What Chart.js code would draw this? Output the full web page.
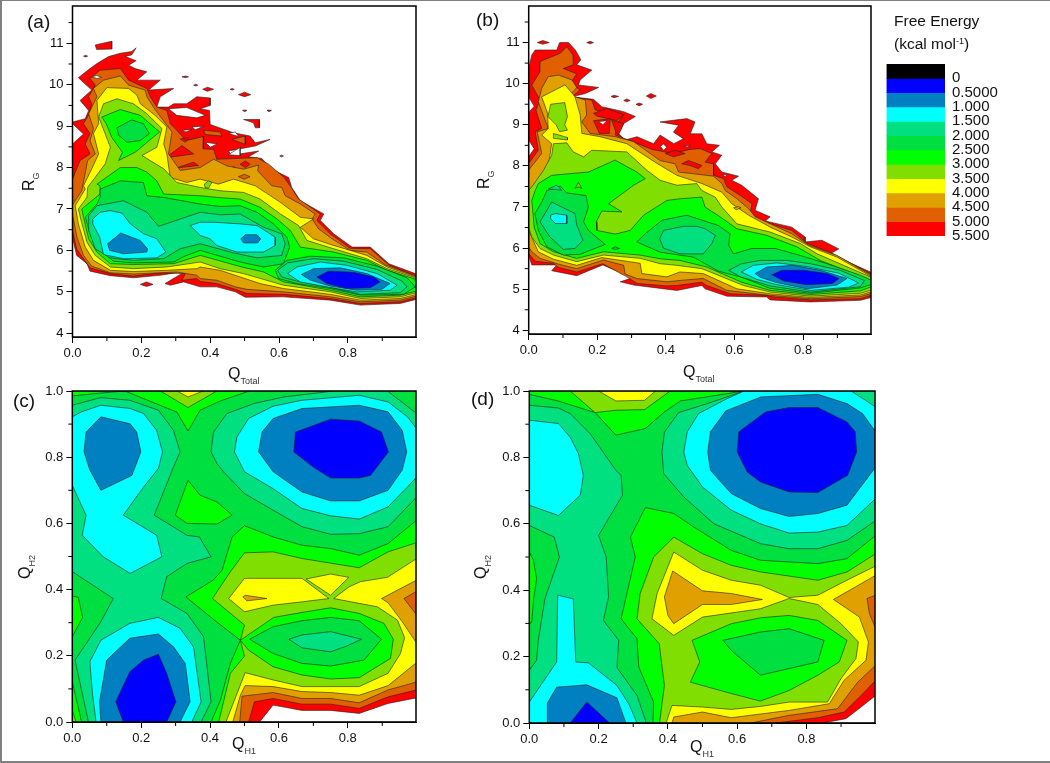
<!DOCTYPE html>
<html>
<head>
<meta charset="utf-8">
<script src="https://cdn.jsdelivr.net/npm/chart.js@4/dist/chart.umd.min.js"></script>
<style>
html,body{margin:0;padding:0;background:#fff;overflow:hidden}
#page{position:relative;width:1050px;height:763px;overflow:hidden;font-family:"Liberation Sans",Arial,sans-serif;color:#111}
#edge{position:absolute;left:0;top:0;width:1048px;height:760px;border-left:2px solid #808080;border-top:1px solid #808080;border-bottom:2px solid #808080}
canvas{position:absolute}
.t{position:absolute;white-space:nowrap;line-height:1}
.tag{font-size:19px}
.q{font-size:16px}
.q sub{font-size:9px;vertical-align:-5px;line-height:0;color:#333}
.rot{transform:rotate(-90deg);transform-origin:left top}
.head{font-size:15.5px}
.head sup{font-size:9px;vertical-align:5px;line-height:0}
</style>
</head>
<body>
<div id="page">
<div id="edge"></div>
<canvas id="panelA" width="450" height="390" style="left:0;top:-10px"></canvas>
<canvas id="panelB" width="420" height="390" style="left:460px;top:-10px"></canvas>
<canvas id="panelC" width="450" height="383" style="left:0;top:380px"></canvas>
<canvas id="panelD" width="420" height="383" style="left:460px;top:380px"></canvas>
<canvas id="scale" width="170" height="204" style="left:880px;top:48px"></canvas>
<span class="t tag" style="left:27px;top:12px">(a)</span>
<span class="t tag" style="left:476px;top:10px">(b)</span>
<span class="t tag" style="left:13px;top:391px">(c)</span>
<span class="t tag" style="left:471px;top:389px">(d)</span>
<span class="t q" style="left:228px;top:366px">Q<sub>Total</sub></span>
<span class="t q" style="left:683px;top:364px">Q<sub>Total</sub></span>
<span class="t q" style="left:232px;top:736px">Q<sub>H1</sub></span>
<span class="t q" style="left:690px;top:739px">Q<sub>H1</sub></span>
<span class="t q rot" style="left:21px;top:191px">R<sub>G</sub></span>
<span class="t q rot" style="left:476px;top:189px">R<sub>G</sub></span>
<span class="t q rot" style="left:17px;top:579px">Q<sub>H2</sub></span>
<span class="t q rot" style="left:473px;top:579px">Q<sub>H2</sub></span>
<span class="t head" style="left:894px;top:13px">Free Energy</span>
<span class="t head" style="left:894px;top:36px">(kcal mol<sup>-1</sup>)</span>
</div>
<script>
// free energy levels, kcal/mol
const levels = [0, 0.5, 1, 1.5, 2, 2.5, 3, 3.5, 4, 4.5, 5, 5.5];
const levelLabels = ['0', '0.5000', '1.000', '1.500', '2.000', '2.500', '3.000', '3.500', '4.000', '4.500', '5.000', '5.500'];
const bandColors = ['#000000', '#0000ff', '#0080c0', '#00ffff', '#00e080', '#00df40', '#00ff00', '#80df00', '#ffff00', '#e0a000', '#e06000', '#ff0000'];

const qTicks = [0, 0.2, 0.4, 0.6, 0.8];
const qMinor = [0.1, 0.3, 0.5, 0.7, 0.9];
const q2Ticks = [0, 0.2, 0.4, 0.6, 0.8, 1];
const rgTicks = [4, 5, 6, 7, 8, 9, 10, 11];
const rgMinor = [4.5, 5.5, 6.5, 7.5, 8.5, 9.5, 10.5, 11.5];

// each entry: upper energy level of the region, then x,y,x,y... of its outline. null = nothing sampled
const contoursA = [
[5.5,[0,9.1,.037,9.18,.047,9.38,.022,9.62,.056,9.87,.017,10.17,.051,10.39,.071,10.51,.105,10.68,.139,10.76,.172,10.8,.185,10.89,.172,10.72,.153,10.68,.185,10.58,.163,10.47,.182,10.39,.216,10.31,.187,10.11,.255,10.11,.221,9.87,.294,9.91,.255,9.71,.245,9.46,.279,9.46,.294,9.54,.332,9.54,.361,9.71,.4,9.68,.4,9.5,.371,9.42,.398,9.38,.4,9.04,.468,8.84,.516,8.76,.531,8.6,.574,8.68,.531,8.52,.492,8.46,.453,8.4,.463,8.3,.541,8.4,.511,8.26,.55,8.22,.579,7.96,.628,7.76,.637,7.52,.662,7.2,.73,6.88,.72,6.72,.759,6.4,.812,6.08,.865,6.08,.919,5.68,.996,5.44,1,5.4,1,4.82,.952,4.72,.836,4.68,.749,4.8,.613,4.88,.502,4.87,.473,5,.419,5.12,.371,5.12,.323,5.24,.284,5.16,.269,5.2,.313,5.42,.332,5.5,.255,5.4,.177,5.34,.11,5.39,.051,5.5,.042,5.68,.012,5.88,.003,6.2,0,6.5]],
[null,[0,8.57,.032,8.81,0,9.06]],
[null,[.279,9.42,.332,9.45,.386,9.26,.361,9.2,.303,9.26]],
[null,[.347,8.98,.381,9,.357,8.91]],
[null,[.318,8.9,.347,8.92,.33,8.86]],
[null,[.386,8.61,.42,8.57,.4,8.49]],
[null,[.453,8.31,.487,8.49,.487,8.29]],
[null,[.453,8.82,.473,8.86,.483,8.75]],
[5.5,[.066,10.96,.114,11.05,.114,10.86,.07,10.85]],
[5.5,[.032,10.69,.038,10.71,.044,10.69,.038,10.67]],
[5.5,[.318,10.19,.328,10.21,.337,10.19,.328,10.17]],
[5.5,[.352,9.99,.358,10.01,.364,9.99,.358,9.97]],
[5.5,[.378,9.89,.392,9.94,.41,9.89,.392,9.84]],
[5.5,[.458,9.89,.464,9.91,.47,9.89,.464,9.87]],
[5.5,[.482,9.76,.5,9.82,.518,9.76,.5,9.71]],
[5.5,[.494,9.38,.5,9.39,.507,9.38,.5,9.35]],
[5.5,[.565,9.38,.571,9.39,.578,9.38,.571,9.35]],
[5.5,[.602,8.28,.607,8.3,.613,8.28,.607,8.26]],
[5.5,[.197,5.18,.215,5.24,.234,5.18,.215,5.13]],
[5.5,[.497,9.16,.543,9.16,.543,8.96,.531,8.96,.526,9.08]],
[5,[.381,8.9,.429,8.86,.434,8.76,.386,8.8]],
[5,[.463,8.68,.502,8.76,.502,8.56]],
[5,[0,7.72,.022,8.17,.051,8.33,.037,8.57,.051,8.82,.032,9.06,.049,9.3,.056,9.54,.047,9.71,.066,9.99,.051,10.15,.08,10.35,.139,10.39,.163,10.11,.216,9.91,.226,9.71,.245,9.46,.274,9.38,.284,9.06,.303,8.9,.33,8.65,.381,8.75,.38,8.45,.41,8.44,.419,8.2,.536,8.24,.57,8.08,.615,7.76,.637,7.5,.657,7.24,.72,6.88,.71,6.72,.749,6.4,.807,6.05,.865,6.04,.919,5.65,.99,5.4,1,5.38,1,4.86,.952,4.76,.836,4.72,.749,4.84,.613,4.94,.507,4.96,.473,5.06,.419,5.2,.371,5.25,.361,5.32,.318,5.28,.328,5.44,.255,5.46,.177,5.38,.11,5.44,.051,5.58,.032,5.8,.012,6.04,0,6.48]],
[null,[.056,10.19,.071,10.22,.085,10.18,.071,10.15]],
[5.5,[.279,8.29,.318,8.53,.352,8.33,.284,8.25]],
[5.5,[.294,7.97,.352,8.13,.366,8.05,.313,8]],
[5.5,[.313,8.69,.337,8.73,.328,8.61]],
[5.5,[.453,7.96,.468,8.02,.482,7.96,.468,7.92]],
[5.5,[.487,8.08,.502,8.16,.516,8.08,.502,8]],
[4.5,[.027,7.44,.044,8.17,.066,8.33,.051,8.65,.061,8.94,.047,9.3,.071,9.71,.061,9.91,.09,10.11,.139,10.21,.163,9.99,.211,9.87,.216,9.71,.24,9.4,.289,8.86,.279,8.33,.313,7.93,.371,8,.41,8.2,.449,8.04,.497,7.96,.541,8.06,.538,7.92,.579,7.56,.608,7.52,.618,7.32,.662,7.12,.705,6.88,.696,6.76,.715,6.52,.754,6.28,.807,6,.855,5.96,.909,5.65,.991,5.4,1,5.35,1,4.9,.952,4.8,.836,4.76,.749,4.88,.613,5,.507,5.06,.473,5.12,.419,5.28,.371,5.32,.361,5.4,.303,5.48,.177,5.43,.11,5.46,.056,5.62,.032,5.88,.013,6.32,0,6.88,0,7.1]],
[5,[.482,7.78,.499,7.84,.516,7.78,.499,7.72]],
[4,[.032,7.56,.056,7.97,.076,8.33,.061,8.82,.076,9.06,.071,9.62,.1,9.93,.163,9.91,.187,9.75,.197,9.54,.24,9.26,.274,8.98,.265,8.57,.274,8.33,.284,7.76,.332,7.64,.371,7.72,.424,7.6,.468,7.72,.531,7.56,.604,7.16,.662,6.8,.7,6.76,.662,6.56,.7,6.28,.759,6.12,.855,5.88,.914,5.6,.991,5.38,1,5.3,1,4.94,.952,4.84,.836,4.8,.749,4.94,.613,5.08,.545,5.2,.487,5.36,.429,5.52,.371,5.6,.361,5.56,.274,5.52,.177,5.49,.11,5.52,.061,5.76,.037,6.08,.017,6.64,.008,7.08,.037,7.48]],
[3.5,[.383,7.6,.395,7.68,.405,7.64,.395,7.5,.385,7.52]],
[3.5,[.044,7.52,.095,8.09,.11,8.49,.076,9.22,.09,9.54,.129,9.66,.177,9.54,.216,9.3,.26,8.94,.245,8.49,.202,8.29,.265,7.97,.303,7.64,.371,7.52,.429,7.44,.497,7.4,.545,7.24,.604,6.88,.657,6.6,.681,6.24,.759,6.04,.855,5.8,.914,5.56,.991,5.36,1,5.25,1,4.98,.952,4.88,.836,4.84,.749,5,.613,5.16,.497,5.44,.429,5.56,.371,5.72,.274,5.6,.177,5.56,.11,5.6,.066,5.88,.042,6.2,.025,6.72,.017,7,.042,7.28]],
[3,[.085,9.22,.139,9.4,.197,9.26,.253,8.86,.182,8.37,.134,8.17,.145,8.37,.114,8.73,.098,9.06]],
[3,[.071,7.6,.139,8,.187,8,.216,7.89,.245,7.68,.265,7.36,.371,7.32,.419,7.28,.487,7.24,.545,7.04,.594,6.76,.633,6.48,.662,6.08,.759,5.96,.855,5.76,.914,5.52,.991,5.32,1,5.22,1,5.02,.952,4.92,.836,4.88,.749,5.04,.613,5.24,.555,5.48,.492,5.6,.371,5.88,.294,5.68,.177,5.66,.11,5.68,.071,5.96,.047,6.28,.032,6.8,.027,7,.056,7.2,.08,7.36,.08,7.56]],
[2.5,[.129,8.96,.172,9.15,.206,9.06,.223,8.82,.197,8.65,.158,8.61,.134,8.78]],
[2.5,[.08,7.48,.139,7.68,.206,7.64,.216,7.32,.265,7.28,.371,7.12,.429,7.06,.487,7.08,.536,6.92,.584,6.64,.623,6.32,.631,6.08,.613,5.68,.555,5.6,.487,5.72,.371,6,.323,5.85,.294,5.72,.177,5.7,.119,5.74,.08,6,.051,6.4,.037,6.8,.071,7.12,.08,7.28]],
[2.5,[.589,5.52,.623,5.76,.691,5.86,.788,5.82,.885,5.62,.972,5.34,.996,5.12,.962,4.94,.836,4.92,.749,5.08,.652,5.2,.599,5.32]],
[2,[.047,6.84,.071,7.08,.148,7.2,.216,6.92,.25,6.58,.342,6.84,.371,6.92,.429,6.86,.487,6.88,.555,6.56,.608,6.4,.618,6.16,.608,5.88,.536,5.82,.468,5.94,.371,6.16,.313,6.04,.265,5.8,.177,5.76,.109,5.82,.066,6.04,.047,6.48]],
[2,[.596,5.52,.625,5.7,.7,5.8,.788,5.74,.885,5.54,.957,5.26,.972,5.12,.952,4.98,.836,4.94,.754,5.1,.652,5.26,.608,5.36]],
[1.5,[.059,6.76,.08,6.92,.109,6.96,.144,6.9,.168,6.64,.207,6.4,.245,6.28,.271,5.96,.245,5.82,.148,5.8,.09,5.9,.079,6.32,.059,6.64]],
[1.5,[.342,6.6,.371,6.68,.41,6.68,.487,6.64,.536,6.6,.589,6.32,.589,6.12,.555,5.96,.478,5.96,.419,6.12,.4,6.28,.371,6.36]],
[1.5,[.625,5.44,.652,5.6,.72,5.72,.797,5.64,.885,5.44,.943,5.16,.923,5.04,.826,5,.739,5.12,.662,5.24]],
[1,[.102,6.16,.14,6.42,.197,6.24,.218,6.04,.216,5.96,.148,5.92,.108,6]],
[1,[.489,6.28,.502,6.38,.536,6.38,.547,6.28,.538,6.18,.497,6.18]],
[1,[.665,5.42,.7,5.56,.778,5.58,.855,5.44,.923,5.2,.899,5.06,.826,5.04,.749,5.14,.691,5.28]],
[0.5,[.71,5.36,.744,5.5,.817,5.47,.875,5.36,.894,5.24,.865,5.1,.797,5.08,.739,5.2]]
];

const contoursB = [
[5.5,[0,10.37,.009,10.7,.019,10.82,.082,10.82,.09,11,.116,11,.136,10.82,.152,10.58,.14,10.46,.184,10.33,.15,10.09,.145,9.97,.204,9.91,.165,9.76,.126,9.68,.189,9.62,.213,9.44,.277,9.32,.311,9.2,.277,9.03,.262,8.79,.281,8.63,.316,8.71,.364,8.54,.383,8.75,.423,8.54,.451,8.66,.422,8.82,.437,8.99,.383,9.07,.461,9.15,.485,9.07,.471,8.78,.505,8.78,.519,8.54,.556,8.5,.534,8.34,.563,8.26,.544,8.05,.563,7.85,.612,7.75,.592,7.65,.621,7.53,.67,7.2,.66,6.92,.704,6.76,.69,6.66,.767,6.51,.806,6.27,.806,6.15,.855,6.19,.904,5.98,.879,5.86,.996,5.42,1,5.4,1,4.8,.967,4.73,.821,4.69,.704,4.74,.694,4.81,.578,4.83,.514,5.01,.505,5.09,.432,4.97,.384,5.02,.306,5.1,.267,5.18,.311,5.3,.277,5.37,.216,5.59,.14,5.33,.067,5.45,.082,5.59,.009,5.59,.002,5.77,0,5.8]],
[null,[0,9.68,.016,9.45,0,9.3]],
[null,[0,8.63,.016,8.42,0,8.22]],
[5.5,[.025,11,.041,11.05,.06,11,.041,10.96]],
[5.5,[.169,11,.179,11.03,.189,11,.179,10.97]],
[5.5,[.24,9.69,.249,9.72,.262,9.69,.249,9.66]],
[5.5,[.277,9.59,.286,9.63,.296,9.59,.286,9.56]],
[5.5,[.313,9.5,.322,9.53,.332,9.5,.322,9.46]],
[5.5,[.343,9.7,.356,9.76,.372,9.7,.356,9.64]],
[5,[0,8.06,.028,8.38,.019,8.83,.038,8.91,.021,9.36,.033,9.6,.009,9.97,.033,10.29,.033,10.54,.092,10.74,.111,10.9,.129,10.7,.13,10.46,.101,10.37,.14,10.24,.121,10,.15,9.85,.126,9.68,.184,9.6,.194,9.36,.238,9.28,.277,9.24,.257,9.03,.252,8.75,.291,8.63,.36,8.4,.42,8.3,.47,8.4,.5,8.42,.534,8.3,.514,8.09,.539,8.05,.539,7.77,.568,7.69,.578,7.49,.617,7.28,.651,7.08,.646,6.88,.675,6.67,.767,6.43,.811,6.12,.889,5.86,.996,5.38,1,5.35,1,4.86,.967,4.77,.821,4.74,.714,4.81,.694,4.85,.587,4.89,.519,5.09,.505,5.17,.432,5.09,.403,5.08,.316,5.14,.286,5.3,.216,5.62,.14,5.42,.087,5.53,.072,5.63,.02,5.68,0,5.86]],
[5.5,[.189,9.28,.228,9.4,.277,9.24,.257,9.1,.199,9.21]],
[5.5,[.189,9.1,.238,9.15,.235,8.79,.206,8.79]],
[5.5,[.242,9.11,.277,9.03,.262,8.75,.252,8.87]],
[null,[.204,9.08,.228,9.1,.216,9]],
[null,[.384,8.48,.393,8.53,.403,8.45,.393,8.38]],
[null,[.454,8.49,.471,8.5,.462,8.46]],
[null,[.566,7.79,.578,7.79,.573,7.74]],
[5.5,[.398,8.3,.427,8.38,.456,8.3,.422,8.22]],
[5.5,[.446,8.05,.466,8.13,.505,8.01,.495,7.93,.47,8.01]],
[4.5,[0,7.9,.038,8.3,.025,8.83,.057,8.91,.028,9.56,.038,9.89,.057,10.17,.087,10.21,.126,10.09,.14,9.91,.121,9.72,.165,9.6,.169,9.24,.155,9.07,.179,8.79,.252,8.71,.306,8.59,.383,8.13,.427,8.05,.437,7.85,.539,7.75,.563,7.57,.573,7.4,.607,7.2,.641,6.96,.66,6.76,.767,6.35,.816,6.07,.899,5.82,.996,5.35,1,5.32,1,4.9,.967,4.82,.821,4.77,.704,4.85,.578,4.97,.509,5.26,.45,5.22,.403,5.18,.315,5.26,.281,5.37,.277,5.58,.218,5.71,.14,5.5,.087,5.61,.033,5.75,.009,5.91,0,6.03]],
[4,[0,7.3,.009,7.4,.057,7.98,.067,8.54,.038,8.75,.057,8.91,.055,9.28,.038,9.68,.106,9.97,.135,9.68,.15,9.24,.155,8.79,.208,8.71,.286,8.54,.374,8.06,.432,7.77,.505,7.57,.563,7.36,.592,7.08,.641,6.8,.704,6.51,.767,6.27,.821,6.03,.899,5.78,.996,5.32,1,5.29,1,4.94,.967,4.86,.821,4.8,.704,4.89,.607,5.01,.509,5.38,.441,5.42,.403,5.3,.33,5.38,.325,5.63,.213,5.77,.14,5.58,.072,5.73,.028,5.91,0,6.43]],
[4.5,[.597,6.98,.612,7.01,.619,6.98,.605,6.93]],
[3.5,[.064,9.5,.105,9.54,.113,9.2,.105,9,.113,8.87,.09,8.83,.08,9,.056,9.2]],
[3.5,[.072,8.79,.113,8.69,.113,8.63,.072,8.67]],
[3.5,[.009,7.49,.043,7.89,.067,8.26,.072,8.54,.111,8.56,.13,8.34,.16,8.22,.184,8.38,.286,8.34,.345,7.89,.383,7.65,.432,7.53,.49,7.57,.505,7.4,.544,7.24,.563,7,.607,6.59,.704,6.39,.792,6.11,.841,5.86,.996,5.3,1,5.26,1,4.98,.967,4.9,.821,4.83,.704,4.93,.626,5.09,.505,5.5,.432,5.58,.383,5.62,.325,5.75,.218,5.83,.14,5.67,.072,5.83,.033,5.99,.009,6.27,0,6.5,0,7.4]],
[3,[.028,7.57,.067,7.77,.174,7.85,.252,8.14,.315,7.85,.34,7.69,.306,7.53,.233,7.08,.272,6.88,.213,6.9,.197,6.64,.199,6.43,.252,6.34,.296,6.43,.335,6.8,.403,7.16,.441,7.2,.505,7.24,.514,7,.558,6.76,.607,6.47,.694,6.31,.782,6.03,.85,5.7,.996,5.21,1,5.18,1,5.06,.967,4.96,.821,4.87,.704,4.97,.621,5.17,.519,5.54,.441,5.7,.383,5.74,.325,5.83,.218,5.91,.14,5.75,.072,5.91,.033,6.11,.016,6.51,.009,7.16,.019,7.4]],
[3.5,[.135,7.45,.145,7.6,.155,7.45,.145,7.49]],
[2.5,[.018,6.84,.038,7.12,.053,7.4,.092,7.51,.111,7.34,.167,7.28,.174,7,.16,6.64,.174,6.43,.223,6.09,.15,5.85,.101,5.83,.053,6.03,.028,6.43]],
[2.5,[.315,6.15,.34,6.35,.389,6.68,.461,6.8,.553,6.55,.587,6.35,.583,6.07,.597,5.86,.65,5.99,.719,5.99,.792,5.82,.87,5.62,.967,5.34,.996,5.23,1,5.2,1,5.12,.967,5.03,.821,4.9,.704,5.02,.621,5.29,.553,5.44,.48,5.78,.383,5.9]],
[2.5,[.242,5.99,.252,6.03,.265,5.99,.252,5.97]],
[2,[.057,7.44,.082,7.53,.096,7.41]],
[2,[.033,6.64,.067,7.12,.135,6.84,.14,6.56,.158,6.19,.135,5.99,.101,5.97,.062,6.27]],
[2,[.382,6.23,.393,6.43,.452,6.53,.49,6.53,.514,6.47,.544,6.31,.534,6.11,.509,5.86,.441,5.86,.393,6]],
[2,[.583,5.46,.621,5.62,.675,5.7,.753,5.7,.821,5.62,.908,5.46,.979,5.21,.967,5.06,.821,4.93,.704,5.08,.617,5.3]],
[1.5,[.064,6.8,.077,6.84,.111,6.8,.111,6.6,.077,6.6,.064,6.72]],
[1.5,[.62,5.42,.655,5.58,.724,5.64,.811,5.55,.904,5.39,.962,5.15,.933,5.05,.821,4.97,.719,5.12,.665,5.24]],
[1,[.66,5.38,.694,5.54,.772,5.58,.85,5.46,.928,5.26,.899,5.1,.811,5.01,.719,5.17,.675,5.29]],
[0.5,[.709,5.35,.738,5.46,.801,5.46,.87,5.38,.905,5.26,.885,5.14,.811,5.11,.743,5.2]]
];

const contoursC = [
[2.5,[0,0,1,0,1,1,0,1]],
[3,[.153,1,.304,.936,.336,.879,.371,.942,.43,.97,.514,1]],
[3,[0,1,0,.985,.083,.994,.153,1]],
[3.5,[.256,1,.336,.95,.42,1]],
[4,[.304,1,.336,.982,.38,1]],
[3,[.336,.73,.371,.685,.42,.665,.464,.625,.42,.598,.333,.6,.299,.625]],
[3,[0,.38,.017,.377,.03,.316,0,.258]],
[3,[0,.121,.027,0,0,0]],
[3.5,[0,.036,.011,0,0,0]],
[3,[.33,.378,.41,.429,.435,.459,.464,.559,.5,.593,.583,.559,.667,.534,.75,.524,.833,.504,.917,.539,1,.61,1,0,.403,0,.43,.066,.459,.177,.488,.247,.41,.31]],
[3.5,[.407,.373,.459,.454,.5,.511,.583,.514,.667,.494,.833,.466,.917,.514,1,.542,1,0,.425,0,.459,.147,.5,.199,.488,.247,.5,.293]],
[3,[.488,.247,.585,.316,.667,.331,.75,.345,.833,.328,.905,.298,.932,.25,.924,.192,.833,.134,.75,.13,.667,.142,.583,.167,.512,.217]],
[2.5,[.515,.25,.583,.288,.667,.306,.75,.316,.833,.306,.898,.25,.847,.187,.75,.169,.667,.177,.583,.207]],
[2,[.629,.25,.667,.263,.75,.273,.84,.25,.798,.23,.75,.212,.667,.224]],
[4,[.446,0,.502,.149,.583,.127,.667,.107,.833,.107,.917,.147,.953,.207,.965,.255,.944,.308,.886,.348,.759,.373,.803,.408,.837,.424,.915,.437,1,.494,1,0]],
[4,[.454,.373,.5,.434,.667,.434,.745,.373,.667,.363,.583,.353,.5,.333]],
[4,[.679,.432,.75,.447,.803,.437,.75,.383]],
[4.5,[.495,.378,.502,.383,.565,.373,.507,.366]],
[4.5,[.898,.373,1,.429,1,.238,.958,.303,.917,.36]],
[5,[.963,.373,1,.395,1,.323]],
[4.5,[.466,0,.488,.081,.502,.11,.583,.107,.667,.092,.75,.089,.833,.081,.917,.11,1,.18,1,0]],
[5,[.486,0,.493,.078,.583,.089,.667,.071,.75,.071,.833,.058,.917,.097,1,.121,1,0]],
[5.5,[.512,0,.529,.061,.583,.071,.667,.054,.75,.054,.833,.041,.917,.076,1,.097,1,0]],
[null,[.544,0,.583,.051,.667,.035,.75,.035,.833,.026,.917,.056,1,.073,1,0]],
[2,[0,.957,.083,.98,.167,.972,.25,.942,.294,.881,.313,.816,.294,.771,.238,.625,.333,.564,.369,.559,.403,.499,.333,.479,.274,.439,.258,.373,.333,.328,.381,.258,.403,.061,.374,0,.047,0,.03,.081,.008,.187,.083,.303,.119,.373,0,.454]],
[1.5,[0,.922,.027,.937,.083,.957,.168,.947,.207,.932,.245,.881,.262,.816,.25,.766,.207,.71,.148,.625,.245,.564,.26,.499,.168,.449,.09,.499,.029,.564,.04,.625,0,.715]],
[1,[.083,.922,.168,.901,.187,.876,.199,.816,.173,.745,.083,.7,.051,.761,.034,.816,.04,.876]],
[1.5,[.051,.182,.083,.247,.167,.298,.25,.316,.313,.283,.352,.227,.374,.061,.347,0,.069,0,.059,.081]],
[1,[.1,.187,.167,.253,.25,.266,.294,.227,.328,.177,.342,.061,.313,0,.083,0,.079,.061]],
[0.5,[.126,.061,.167,.152,.207,.187,.25,.205,.274,.147,.301,.061,.274,0,.148,0]],
[2,[.403,.816,.41,.876,.449,.932,.527,.962,.614,.982,.759,1,.915,1,1,.932,1,.68,.917,.59,.833,.569,.75,.567,.667,.59,.583,.64,.5,.69,.439,.756,.42,.781]],
[1.5,[.471,.816,.478,.861,.512,.917,.583,.954,.667,.972,.833,.987,.917,.967,.973,.922,1,.886,1,.74,.973,.71,.917,.65,.833,.613,.75,.623,.667,.645,.583,.705,.5,.756]],
[1,[.541,.816,.551,.876,.583,.917,.667,.947,.833,.957,.917,.937,.958,.881,.971,.816,.958,.761,.917,.7,.833,.668,.75,.668,.667,.695,.583,.756]],
[0.5,[.643,.816,.648,.876,.75,.915,.833,.909,.898,.876,.918,.816,.866,.745,.833,.737,.75,.737,.701,.769]]
];

const contoursD = [
[2.5,[0,0,1,0,1,1,0,1]],
[3,[0,1,0,.99,.083,.97,.19,.935,.25,.867,.335,.887,.39,.937,.436,.97,.62,1]],
[3.5,[.118,1,.19,.935,.25,.942,.333,.944,.407,1]],
[4,[.2,1,.25,.97,.333,.972,.364,1]],
[3,[0,.515,.012,.49,.021,.435,.012,.369,.007,.304,0,.299]],
[3,[.335,.649,.417,.631,.475,.59,.583,.52,.668,.49,.833,.48,.917,.495,1,.565,1,0,.357,0,.359,.063,.316,.169,.311,.254,.265,.314,.306,.5,.292,.56]],
[3.5,[.311,.314,.32,.39,.359,.5,.417,.56,.5,.51,.583,.475,.668,.455,.833,.43,.917,.455,1,.51,1,0,.376,0,.39,.113,.375,.239]],
[4,[.354,.314,.369,.39,.417,.515,.5,.46,.583,.43,.668,.415,.75,.378,.833,.385,.917,.43,1,.473,1,0,.395,0,.412,.053,.5,.048,.583,.041,.668,.05,.75,.063,.861,.063,.9,.134,.943,.194,.95,.244,.9,.299,.833,.357,.75,.375,.667,.344,.5,.319,.417,.264]],
[3,[.47,.249,.583,.299,.668,.317,.75,.324,.833,.309,.917,.249,.895,.184,.833,.144,.75,.098,.667,.066,.586,.088,.465,.123,.492,.184]],
[2.5,[.559,.249,.667,.274,.75,.284,.851,.249,.833,.184,.667,.144,.583,.219]],
[4.5,[.414,.458,.5,.398,.583,.39,.673,.372,.583,.357,.5,.357,.417,.299,.4,.324,.39,.38]],
[4.5,[.878,.372,1,.445,1,0,.412,0,.417,.018,.5,.033,.583,.016,.75,.038,.866,.058,.909,.129,.972,.189,.979,.244,.953,.319]],
[5,[.975,.375,1,.385,1,.284,.982,.329]],
[5,[.639,0,.75,.023,.89,.043,.948,.123,1,.174,1,0]],
[5.5,[.711,0,.833,.016,.909,.033,.958,.083,1,.129,1,0]],
[null,[.847,0,.914,.013,.958,.048,1,.083,1,0]],
[2,[0,.957,.083,.949,.118,.932,.176,.871,.25,.761,.265,.746,.269,.686,.2,.565,.222,.5,.229,.38,.214,.309,.258,.249,.253,.167,.311,.083,.338,0,0,0,0,.159,.021,.189,.026,.249,.045,.374,.087,.5,.072,.56,0,.595]],
[1.5,[0,.912,.084,.902,.118,.861,.142,.811,.156,.746,.147,.686,.084,.625,0,.656]],
[1.5,[.082,.385,.127,.374,.134,.184,.171,.181,.253,.113,.287,.058,.311,0,0,0,0,.063,.079,.184]],
[1,[.052,.06,.079,.108,.166,.115,.253,.076,.279,0,.052,0]],
[0.5,[.118,0,.166,.063,.232,0]],
[2,[.383,.816,.39,.876,.431,.935,.514,.962,.62,1,1,1,1,.61,.917,.55,.833,.525,.75,.525,.668,.54,.533,.6,.446,.681,.388,.751]],
[1.5,[.446,.816,.456,.877,.489,.932,.571,.977,.62,1,.929,1,1,.952,1,.676,.917,.595,.833,.575,.75,.572,.667,.6,.583,.641,.5,.711,.456,.776]],
[1,[.515,.816,.523,.877,.567,.94,.668,.982,.833,.99,.917,.962,.962,.932,1,.877,1,.771,.917,.656,.833,.631,.75,.622,.667,.646,.583,.691,.523,.761]],
[0.5,[.6,.816,.605,.877,.682,.937,.75,.95,.833,.95,.917,.907,.941,.877,.945,.816,.919,.746,.833,.694,.75,.696,.667,.726,.629,.756]]
];

function colorOf(level) {
  return level === null ? '#ffffff' : bandColors[levels.indexOf(level)];
}

// Chart.js paints dataset 0 last, so the list goes in backwards
function polygons(list) {
  return list.map(([level, xy]) => {
    const pts = [];
    for (let i = 0; i < xy.length; i += 2) pts.push({x: xy[i], y: xy[i + 1]});
    pts.push(pts[0]);
    return {
      data: pts,
      showLine: true,
      fill: 'shape',
      backgroundColor: colorOf(level),
      borderColor: '#222222',
      borderWidth: 0.6,
      pointRadius: 0,
      tension: 0
    };
  }).reverse();
}

const frame = {
  id: 'frame',
  afterDraw(chart) {
    const {ctx, chartArea: a, scales} = chart;
    const minor = chart.options.plugins.frame;
    ctx.save();
    ctx.strokeStyle = '#000';
    ctx.lineWidth = 1;
    minor.x.forEach(v => {
      const p = scales.x.getPixelForValue(v);
      ctx.beginPath(); ctx.moveTo(p, a.bottom); ctx.lineTo(p, a.bottom + 4); ctx.stroke();
    });
    minor.y.forEach(v => {
      const p = scales.y.getPixelForValue(v);
      ctx.beginPath(); ctx.moveTo(a.left, p); ctx.lineTo(a.left - 4, p); ctx.stroke();
    });
    ctx.lineWidth = 1.5;
    ctx.strokeRect(a.left, a.top, a.right - a.left, a.bottom - a.top);
    ctx.restore();
  }
};

function contourChart(id, list, box, xr, yr, yTicks, yMinor, yFmt) {
  const tickFont = {family: '"Liberation Sans", Arial', size: 13};
  return new Chart(document.getElementById(id), {
    type: 'scatter',
    data: {datasets: polygons(list)},
    plugins: [frame],
    options: {
      responsive: false,
      animation: false,
      events: [],
      layout: {padding: {top: box.top, right: box.right, left: 0, bottom: 0}},
      plugins: {legend: {display: false}, tooltip: {enabled: false}, frame: {x: qMinor, y: yMinor}},
      scales: {
        x: {
          type: 'linear', min: xr[0], max: xr[1],
          afterBuildTicks: s => { s.ticks = qTicks.map(v => ({value: v})); },
          afterFit: s => { s.height = box.xAxis; },
          ticks: {callback: v => v.toFixed(1), color: '#111', font: tickFont, padding: 3, maxRotation: 0},
          grid: {drawOnChartArea: false, color: '#000', tickLength: 6, tickColor: '#000'},
          border: {color: '#000'}
        },
        y: {
          type: 'linear', min: yr[0], max: yr[1],
          afterBuildTicks: s => { s.ticks = yTicks.map(v => ({value: v})); },
          afterFit: s => { s.width = box.yAxis; },
          ticks: {callback: yFmt, color: '#111', font: tickFont, padding: 3},
          grid: {drawOnChartArea: false, color: '#000', tickLength: 6, tickColor: '#000'},
          border: {color: '#000'}
        }
      }
    }
  });
}

const rgFmt = v => String(v);
const qFmt = v => v.toFixed(1);
contourChart('panelA', contoursA, {top: 16, right: 34, xAxis: 43, yAxis: 72.5}, [0, 0.998], [3.91, 11.9], rgTicks, rgMinor, rgFmt);
contourChart('panelB', contoursB, {top: 16, right: 9, xAxis: 46, yAxis: 68.7}, [0, 0.998], [3.91, 11.89], rgTicks, rgMinor, rgFmt);
contourChart('panelC', contoursC, {top: 11, right: 34, xAxis: 41, yAxis: 72.3}, [0, 0.998], [0, 1], q2Ticks, qMinor, qFmt);
contourChart('panelD', contoursD, {top: 11, right: 5, xAxis: 40, yAxis: 69.3}, [0, 0.998], [0, 1], q2Ticks, qMinor, qFmt);

// colour key, one floating bar per band
const keyEdges = [-0.5].concat(levels);
new Chart(document.getElementById('scale'), {
  type: 'bar',
  data: {
    labels: [''],
    datasets: bandColors.map((c, i) => ({
      data: [[keyEdges[i], keyEdges[i + 1]]],
      backgroundColor: c,
      grouped: false,
      barPercentage: 1,
      categoryPercentage: 1
    }))
  },
  options: {
    responsive: false,
    animation: false,
    events: [],
    layout: {padding: {top: 0, left: 6.5, bottom: 0, right: 0}},
    plugins: {legend: {display: false}, tooltip: {enabled: false}},
    scales: {
      x: {display: false},
      y: {
        position: 'right', reverse: true, min: -0.5, max: 5.5,
        afterBuildTicks: s => { s.ticks = levels.map(v => ({value: v})); },
        afterFit: s => { s.width = 105; },
        ticks: {
          autoSkip: false, padding: 7, color: '#111',
          font: {family: '"Liberation Sans", Arial', size: 15},
          callback: v => levelLabels[levels.indexOf(v)]
        },
        grid: {display: false, drawTicks: false},
        border: {display: false}
      }
    }
  }
});
</script>
</body>
</html>
